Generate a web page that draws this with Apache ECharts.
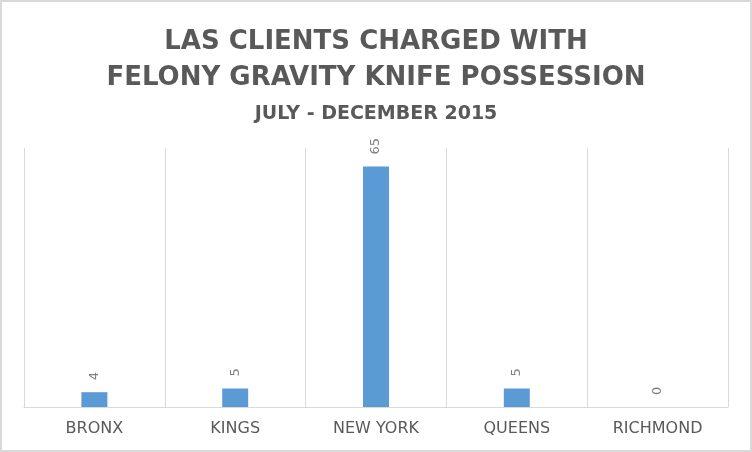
<!DOCTYPE html>
<html>
<head>
<meta charset="utf-8">
<script src="https://cdn.jsdelivr.net/npm/echarts@6/dist/echarts.min.js"></script>
<style>
html,body{margin:0;padding:0;background:#fff;}
#chart{width:752px;height:452px;}
</style>
</head>
<body>
<div id="chart"></div>
<script>
var titleLines = ['LAS CLIENTS CHARGED WITH', 'FELONY GRAVITY KNIFE POSSESSION'];
var subtitleText = 'JULY - DECEMBER 2015';
var categories = ['BRONX', 'KINGS', 'NEW YORK', 'QUEENS', 'RICHMOND'];
var clientCounts = [4, 5, 65, 5, 0];

var chart = echarts.init(document.getElementById('chart'), null, {renderer: 'canvas'});
chart.setOption({
  backgroundColor: '#ffffff',
  animation: false,
  title: [
    {
      text: titleLines.join('\n'),
      left: 'center',
      top: 19,
      textStyle: {
        fontFamily: 'DejaVu Sans',
        fontWeight: 'bold',
        fontSize: 26,
        lineHeight: 36,
        color: '#595959'
      }
    },
    {
      text: subtitleText,
      left: 'center',
      top: 98,
      textStyle: {
        fontFamily: 'DejaVu Sans',
        fontWeight: 'bold',
        fontSize: 19,
        lineHeight: 22,
        color: '#595959'
      }
    }
  ],
  graphic: [{
    type: 'rect',
    shape: {x: 1, y: 1, width: 750, height: 450},
    style: {fill: 'none', stroke: '#d9d9d9', lineWidth: 2},
    silent: true
  }],
  grid: {left: 24, right: 24, top: 148, bottom: 45, containLabel: false},
  xAxis: {
    type: 'category',
    data: categories,
    boundaryGap: true,
    axisLine: {show: true, lineStyle: {color: '#d9d9d9', width: 1}},
    axisTick: {show: false},
    axisLabel: {
      fontFamily: 'DejaVu Sans',
      fontSize: 16,
      color: '#595959',
      margin: 14
    },
    splitLine: {show: true, lineStyle: {color: '#d9d9d9', width: 1}}
  },
  yAxis: {
    type: 'value',
    min: 0,
    max: 70,
    show: false,
    splitLine: {show: false}
  },
  series: [{
    type: 'bar',
    data: clientCounts,
    barWidth: 26,
    itemStyle: {color: '#5B9BD5'},
    label: {
      show: true,
      position: 'top',
      distance: 12,
      rotate: 90,
      align: 'left',
      verticalAlign: 'middle',
      fontFamily: 'DejaVu Sans',
      fontSize: 13,
      color: '#808080'
    }
  }]
});
</script>
</body>
</html>
